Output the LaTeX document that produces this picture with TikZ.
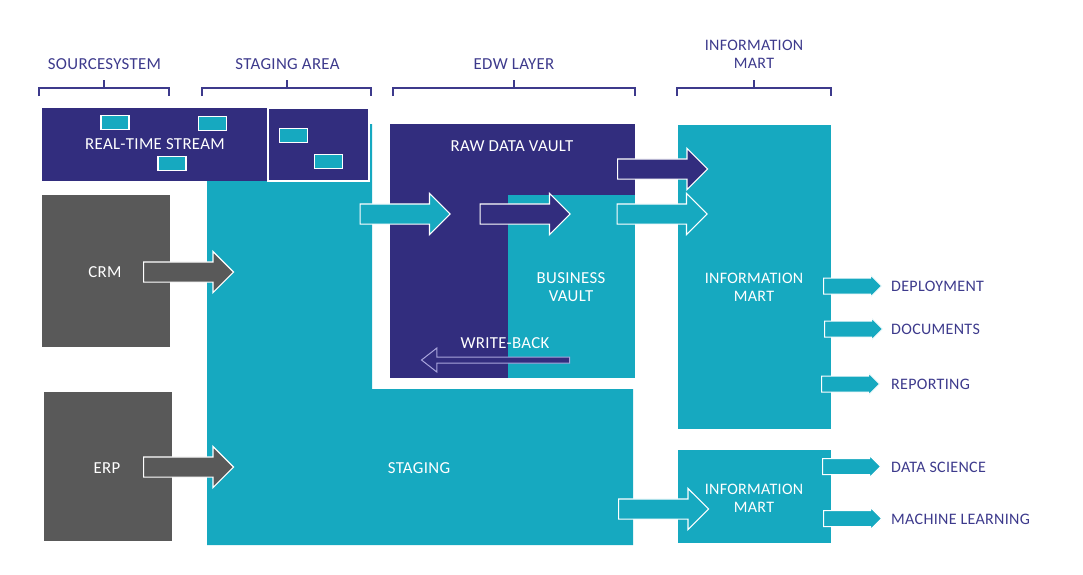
\documentclass[tikz,border=0pt]{standalone}
\usepackage{fontspec}
\setmainfont{Carlito}[LetterSpace=2]
\usetikzlibrary{shapes.arrows}
\definecolor{vaultnavy}{HTML}{322D7E}
\definecolor{martteal}{HTML}{16A9C0}
\definecolor{sourcegray}{HTML}{595959}
\definecolor{bracketblue}{HTML}{3D3A8C}
\definecolor{backlilac}{HTML}{A9A5DC}
\begin{document}
\begin{tikzpicture}[x=1pt,y=-1pt,font=\fontsize{16}{18}\selectfont,
    wider/.style={font=\fontsize{16.8}{18}\selectfont},
    head/.style={text=bracketblue,align=center},
    inner/.style={text=white,align=center},
    side/.style={text=bracketblue,anchor=west,inner xsep=0pt},
    chip/.style={fill=martteal,draw=white,line width=1.2pt,inner sep=0pt,%
      minimum width=28pt,minimum height=14pt},
    bigarrow/.style={shape=single arrow,anchor=tail,draw=white,line width=1.2pt,inner xsep=0pt,%
      inner ysep=9.5pt,single arrow head extend=10.5pt,minimum height=90pt},
    smallarrow/.style={shape=single arrow,anchor=tail,draw=white,line width=1pt,fill=martteal,%
      inner xsep=0pt,inner ysep=7.5pt,single arrow head extend=3pt,minimum height=58pt}]
      \useasboundingbox (0,0) rectangle (1083,574) ;
      % the staging area runs behind the stream boxes
      \fill[martteal] (207,124)--(372,124)--(372,389)--(633,389)--(633,545)--(207,545)--cycle ;
      \fill[vaultnavy] (42,108) rectangle (268,181) ;
      \draw[white,line width=1.2pt,fill=vaultnavy] (268,108) rectangle (369,181) ;
      \fill[sourcegray] (42,195) rectangle (170,347) ;
      \fill[sourcegray] (44,392) rectangle (172,541) ;
      \fill[vaultnavy] (390,124) rectangle (635,378) ;
      \fill[martteal] (508,195) rectangle (635,378) ;
      \fill[martteal] (678,125) rectangle (831,429) ;
      \fill[martteal] (678,450) rectangle (831,543) ;
      % brackets above the columns
      \foreach \xa/\xb/\xm in {39/169/104,202/371/287,393/635/514,677/831/754}
        \draw[bracketblue,line width=1.2pt] (\xa,96)--(\xa,88)--(\xb,88)--(\xb,96) (\xm,88)--(\xm,80) ;
      \node[head,wider] (sourcesystem) at (104.5,64) {SOURCESYSTEM} ;
      \node[head,wider] (stagingarea) at (287.5,64) {STAGING AREA} ;
      \node[head,wider] (edwlayer) at (514,64) {EDW LAYER} ;
      \node[head] (infohead) at (754,54) {INFORMATION\\MART} ;
      % small boxes in the stream
      \node[chip] (chipa) at (115,122.5) {} ;
      \node[chip] (chipb) at (212.5,123.5) {} ;
      \node[chip] (chipc) at (172,163.5) {} ;
      \node[chip] (chipd) at (293.5,135.5) {} ;
      \node[chip] (chipe) at (328.5,161.5) {} ;
      \node[inner,wider] (stream) at (155,144) {REAL-TIME STREAM} ;
      \node[inner,wider] (crm) at (105,272) {CRM} ;
      \node[inner,wider] (erp) at (107,468) {ERP} ;
      \node[inner,wider] (staging) at (419,468) {STAGING} ;
      \node[inner,wider] (rawvault) at (512,146) {RAW DATA VAULT} ;
      \node[inner,wider] (bizvault) at (571,287) {BUSINESS\\VAULT} ;
      \node[inner,wider] (writeback) at (505,343) {WRITE-BACK} ;
      \node[inner] (marta) at (754,287) {INFORMATION\\MART} ;
      \node[inner] (martb) at (754,498) {INFORMATION\\MART} ;
      % block arrows
      \node[bigarrow,fill=sourcegray] (crmarrow) at (143,272) {} ;
      \node[bigarrow,fill=sourcegray] (erparrow) at (143,467) {} ;
      \node[bigarrow,fill=martteal] (loadarrow) at (359.5,214) {} ;
      \node[bigarrow,fill=vaultnavy] (bizarrow) at (479.5,214) {} ;
      \node[bigarrow,fill=vaultnavy] (rawarrow) at (617,169) {} ;
      \node[bigarrow,fill=martteal] (vaultarrow) at (616.5,214) {} ;
      \node[bigarrow,fill=martteal] (stagearrow) at (618,509) {} ;
      \node[shape=single arrow,anchor=tail,draw=backlilac,line width=1pt,fill=vaultnavy,%
      shape border rotate=180,inner xsep=0pt,inner ysep=2.5pt,single arrow head extend=9pt,%
      single arrow tip angle=76,minimum height=148pt] (backarrow) at (570,360) {} ;
      \node[smallarrow] (deployarrow) at (823,286) {} ;
      \node[smallarrow] (docarrow) at (824,329) {} ;
      \node[smallarrow] (reportarrow) at (821,384) {} ;
      \node[smallarrow] (sciencearrow) at (822,466.5) {} ;
      \node[smallarrow] (learnarrow) at (823,518.5) {} ;
      \node[side] (deploy) at (891,286) {DEPLOYMENT} ;
      \node[side] (docs) at (891,329) {DOCUMENTS} ;
      \node[side] (report) at (891,384) {REPORTING} ;
      \node[side] (science) at (891,467) {DATA SCIENCE} ;
      \node[side] (learn) at (891,519) {MACHINE LEARNING} ;
    \end{tikzpicture}
\end{document}
